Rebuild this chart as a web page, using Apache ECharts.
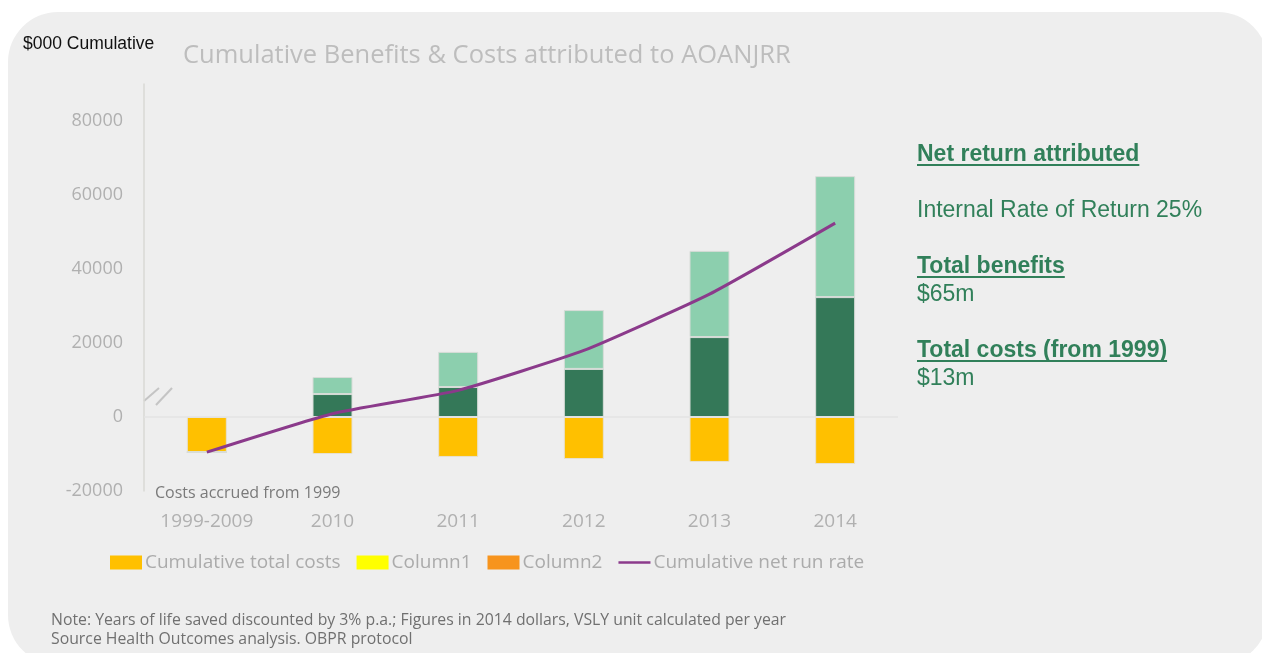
<!DOCTYPE html>
<html>
<head>
<meta charset="utf-8">
<script src="https://cdn.jsdelivr.net/npm/echarts@6/dist/echarts.min.js"></script>
<style>
  html, body { margin: 0; padding: 0; background: #ffffff; }
  #chart { width: 1262px; height: 653px; }
</style>
</head>
<body>
<div id="chart"></div>
<script>
// data ($000)
const categories = ['1999-2009', '2010', '2011', '2012', '2013', '2014'];
const totalCosts = [-9500, -10000, -10800, -11350, -12150, -12700];
const column1 = [0, 6200, 8100, 13000, 21600, 32400];      // dark green part
const column2 = [0, 4600, 9500, 15900, 23300, 32700];      // light green part on top
const netRunRate = [-9500, 900, 7200, 18000, 33200, 52400];
const yTicks = { min: -20000, max: 90000, interval: 20000 };

const green = '#31805a';
const sideFont = '"Liberation Sans", Arial, sans-serif';
const uiFont = '"Open Sans", "Noto Sans", sans-serif';

// width of a text, for the underlines
function textWidth(str, font) {
    const ctx = document.createElement('canvas').getContext('2d');
    ctx.font = font;
    return ctx.measureText(str).width;
}

function sideText(str, y, bold, underline) {
    const font = (bold ? 'bold ' : '') + '23px ' + sideFont;
    const items = [{
        type: 'text',
        x: 917,
        y: y,
        style: {
            text: str,
            fill: green,
            font: font,
            verticalAlign: 'middle'
        }
    }];
    if (underline) {
        const w = textWidth(str, font);
        items.push({
            type: 'line',
            shape: { x1: 917, y1: y + 10, x2: 917 + w, y2: y + 10 },
            style: { stroke: green, lineWidth: 2 }
        });
    }
    return items;
}

const myChart = echarts.init(document.getElementById('chart'));
myChart.setOption({
    animation: false,
    backgroundColor: '#ffffff',
    title: {
        text: 'Cumulative Benefits & Costs attributed to AOANJRR',
        left: 178,
        top: 38,
        textStyle: { color: '#bdbdbd', fontSize: 25.5, fontWeight: 'normal', fontFamily: uiFont }
    },
    legend: {
        left: 105,
        top: 548,
        itemWidth: 32,
        itemHeight: 14,
        itemGap: 16,
        icon: 'rect',
        itemStyle: { borderWidth: 0 },
        textStyle: { color: '#ababab', fontSize: 19, fontFamily: uiFont, padding: [0, 0, 0, -2] },
        data: [
            'Cumulative total costs',
            { name: 'Column1', itemStyle: { color: '#ffff00', borderWidth: 0 } },
            { name: 'Column2', itemStyle: { color: '#f7941d', borderWidth: 0 } },
            { name: 'Cumulative net run rate', icon: 'path://M0,6 L32,6 L32,8.5 L0,8.5 Z' }
        ]
    },
    grid: { left: 144, right: 364, top: 84, bottom: 162 },
    xAxis: {
        type: 'category',
        data: categories,
        axisLine: { show: false, onZero: false },
        axisTick: { show: false },
        axisLabel: { color: '#b0b0b0', fontSize: 19, margin: 21, fontFamily: uiFont }
    },
    yAxis: {
        type: 'value',
        min: yTicks.min,
        max: yTicks.max,
        interval: yTicks.interval,
        axisLine: { show: true, lineStyle: { color: '#d9d9d4', width: 1.5 } },
        axisTick: { show: false },
        splitLine: { show: false },
        axisLabel: {
            color: '#b0b0b0',
            fontSize: 18,
            margin: 21,
            showMaxLabel: false,
            fontFamily: uiFont,
            formatter: v => String(v)
        }
    },
    series: [
        {
            name: 'Cumulative total costs',
            type: 'bar',
            stack: 'a',
            barWidth: 40,
            data: totalCosts,
            itemStyle: { color: '#ffc000', borderColor: '#e6e0d0', borderWidth: 1 },
            markLine: {
                silent: true,
                symbol: 'none',
                label: { show: false },
                lineStyle: { color: '#e3e3e3', type: 'solid', width: 1.5 },
                data: [{ yAxis: 0 }]
            },
            z: 2
        },
        {
            name: 'Column1',
            type: 'bar',
            stack: 'a',
            barWidth: 40,
            data: column1,
            itemStyle: { color: '#347858', borderColor: '#d8dcd8', borderWidth: 1 }
        },
        {
            name: 'Column2',
            type: 'bar',
            stack: 'a',
            barWidth: 40,
            data: column2,
            itemStyle: { color: '#8ccfae', borderColor: '#d8dcd8', borderWidth: 1 }
        },
        {
            name: 'Cumulative net run rate',
            type: 'line',
            data: netRunRate,
            smooth: 0.15,
            symbol: 'none',
            lineStyle: { color: '#8b3a8b', width: 3 },
            itemStyle: { color: '#8b3a8b' },
            z: 5
        }
    ],
    graphic: [
        {
            type: 'rect',
            z: -10,
            silent: true,
            shape: { x: 8, y: 12, width: 1260, height: 653, r: 50 },
            style: { fill: '#eeeeee' }
        },
        {
            type: 'text',
            x: 23,
            y: 44,
            style: { text: '$000 Cumulative', fill: '#111111', font: '17.5px ' + sideFont, verticalAlign: 'middle' }
        },
        // axis break marks
        {
            type: 'line',
            shape: { x1: 144, y1: 401, x2: 159, y2: 388 },
            style: { stroke: '#c4c4c4', lineWidth: 2 }
        },
        {
            type: 'line',
            shape: { x1: 156, y1: 405, x2: 172, y2: 388 },
            style: { stroke: '#c4c4c4', lineWidth: 2 }
        },
        {
            type: 'text',
            x: 155,
            y: 493,
            style: { text: 'Costs accrued from 1999', fill: '#7a7a7a', font: '16px ' + uiFont, verticalAlign: 'middle' }
        },
        {
            type: 'text',
            x: 51,
            y: 611,
            style: {
                text: 'Note: Years of life saved discounted by 3% p.a.; Figures in 2014 dollars, VSLY unit calculated per year\nSource Health Outcomes analysis. OBPR protocol',
                fill: '#707070',
                font: '15.8px ' + uiFont,
                lineHeight: 19
            }
        },
        ...sideText('Net return attributed', 155, true, true),
        ...sideText('Internal Rate of Return 25%', 211, false, false),
        ...sideText('Total benefits', 267, true, true),
        ...sideText('$65m', 295, false, false),
        ...sideText('Total costs (from 1999)', 351, true, true),
        ...sideText('$13m', 379, false, false)
    ]
});
</script>
</body>
</html>
